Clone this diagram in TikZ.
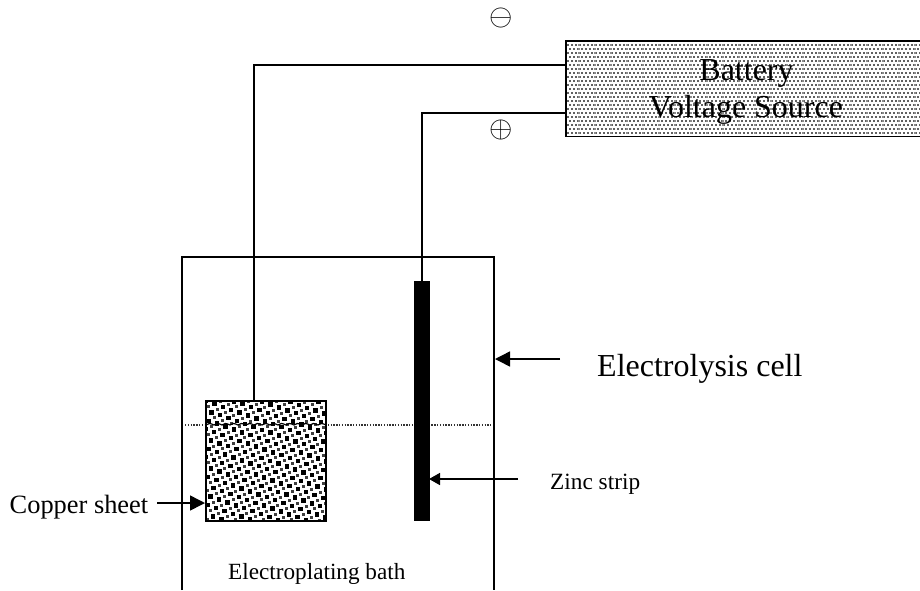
\documentclass[tikz,border=0pt]{standalone}
\usepackage{fontspec}
\setmainfont{Liberation Serif}
\usetikzlibrary{arrows.meta}
\tikzset{
  x=1pt,y=-1pt,
  line/.style={line width=1.5pt,black},
  pointer/.style={line width=1.5pt,-{Triangle[length=15pt,width=15pt]}},
  pointersm/.style={line width=1.5pt,-{Triangle[length=11pt,width=12pt]}},
  lab/.style={inner sep=0pt,anchor=base west},
  rect/.style={inner sep=0pt,outer sep=0pt,anchor=north west},
}
\newcommand{\fsz}[1]{\fontsize{#1}{#1}\selectfont}
\begin{document}
\begin{tikzpicture}
\useasboundingbox (0,0) rectangle (920,590);
% battery pattern
\begin{scope}
\clip (566,41) rectangle (920,136.5);
\fill[white] (566,41) rectangle (920,136.5);
\foreach \i in {0,...,88}{
  \foreach \j in {0,...,24}{
    \pgfmathsetmacro{\px}{566+\i*4+mod(\j,2)*2}
    \pgfmathsetmacro{\py}{41+\j*4}
    \fill[black!62] (\px-1.25,\py-1.25) rectangle (\px+1.25,\py+1.25);
  }
}
\foreach \k in {0,...,22}{
  \pgfmathsetmacro{\qx}{579+\k*16}
  \foreach \j in {0,...,24}{
    \fill[black!45] (\qx-.6,41+\j*4-.8) rectangle (\qx+.6,41+\j*4+.8);
  }
}
\end{scope}
\node[rect,minimum width=354pt,minimum height=95pt] (bat) at (566,41) {};
\draw[line] (920,41) -- (566,41) -- (566,136.5) -- (920,136.5);
\node[inner sep=0pt,anchor=base] (batt) at (746.5,80) {\fsz{32}Battery};
\node[inner sep=0pt,anchor=base] (volt) at (746,117) {\fsz{32}Voltage Source};
\node[inner sep=0pt] (minus) at (501.5,18) {\scalebox{3}{$\ominus$}};
\node[inner sep=0pt] (plus) at (501.5,130) {\scalebox{3}{$\oplus$}};
% cell
\draw[line] (182,590) -- (182,257) -- (494,257) -- (494,590);
% water
\draw[line width=1.2pt,black!80,dash pattern=on 1.4pt off 1.4pt] (185,425) -- (491,425);
% copper
\begin{scope}
\clip (206,401) rectangle (326,521);
\fill[white] (206,401) rectangle (326,521);
\foreach \i in {-6,...,20}{
  \foreach \j in {-6,...,20}{
    \pgfmathsetmacro{\px}{206+\i*8.4-\j*2.9}
    \pgfmathsetmacro{\py}{401+\i*2.9+\j*8.4}
    \fill[black] (\px-2.2,\py-2.2) rectangle (\px+2.2,\py+2.2);
    \fill[black!75] (\px+2.75-1.5,\py+5.65-1.5) rectangle (\px+2.75+1.5,\py+5.65+1.5);
  }
}
\draw[line width=1.2pt,black] (206,425) \foreach \n in {0,...,14}{ .. controls (208+\n*8,423) and (210+\n*8,423) .. (214+\n*8,425)};
\end{scope}
\node[rect,minimum width=120pt,minimum height=120pt,draw,line width=1.5pt] (cu) at (206,401) {};
% zinc
\node[rect,minimum width=16pt,minimum height=240pt,fill=black] (zn) at (414,281) {};
% wires
\coordinate (batA) at (566,65);
\coordinate (batB) at (566,113);
\coordinate (cuTop) at (254,401);
\draw[line] (cuTop) -- (cuTop |- batA) -- (batA);
\draw[line] (zn.north) -- (zn.north |- batB) -- (batB);
% labels
\node[lab] (cell) at (597,376) {\fsz{32}Electrolysis cell};
\node[lab] (zlab) at (550,489) {\fsz{23.3}Zinc strip};
\node[lab] (clab) at (9.5,513) {\fsz{26.4}Copper sheet};
\node[lab] (blab) at (228,579) {\fsz{23.2}Electroplating bath};
% pointers
\coordinate (cellL) at (560,359); \coordinate (cellR) at (495,359);
\coordinate (zl) at (518,479); \coordinate (zr) at (429,479);
\coordinate (cl) at (157,503); \coordinate (cr) at (205,503);
\draw[pointer] (cellL) -- (cellR);
\draw[pointersm] (zl) -- (zr);
\draw[pointer] (cl) -- (cr);
\end{tikzpicture}
\end{document}
